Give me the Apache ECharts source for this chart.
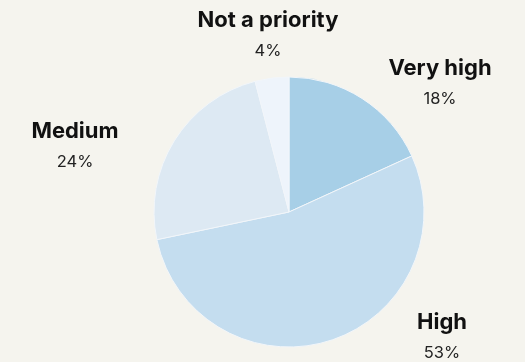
<!DOCTYPE html>
<html>
<head>
<meta charset="utf-8">
<script src="https://cdn.jsdelivr.net/npm/echarts@6/dist/echarts.min.js"></script>
<style>
  html, body { margin: 0; padding: 0; background: #f5f4ee; }
  #chart { width: 525px; height: 362px; }
</style>
</head>
<body>
<div id="chart"></div>
<script>
// Priority shares, drawn clockwise from 12 o'clock
const categories = ['Very high', 'High', 'Medium', 'Not a priority'];
const shares = [18, 53, 24, 4];
const sliceColors = ['#a7cfe7', '#c4ddef', '#dde9f3', '#eef4fb'];

// Where each label block sits (centre of the two-line label, in px)
const labelSpots = [[440, 83], [442, 337], [75, 146], [268, 35]];

const chart = echarts.init(document.getElementById('chart'), null, { renderer: 'canvas' });

chart.setOption({
  backgroundColor: '#f5f4ee',
  animation: false,
  series: [{
    type: 'pie',
    center: [289, 212],
    radius: [0, 135],
    startAngle: 90,
    clockwise: true,
    silent: true,
    itemStyle: { borderColor: '#f2f6fa', borderWidth: 1 },
    label: {
      show: true,
      position: 'outside',
      formatter: p => '{n|' + p.name + '}\n{v|' + p.value + '%}',
      rich: {
        n: { fontFamily: 'Inter', fontWeight: 'bold', fontSize: 22, color: '#111111', lineHeight: 32, align: 'center' },
        v: { fontFamily: 'Inter', fontSize: 16.5, color: '#222222', lineHeight: 30, align: 'center' }
      }
    },
    labelLine: { show: false },
    labelLayout: params => ({
      x: labelSpots[params.dataIndex][0],
      y: labelSpots[params.dataIndex][1],
      align: 'center',
      verticalAlign: 'middle'
    }),
    data: categories.map((c, i) => ({
      name: c,
      value: shares[i],
      itemStyle: { color: sliceColors[i] }
    }))
  }]
});
</script>
</body>
</html>
